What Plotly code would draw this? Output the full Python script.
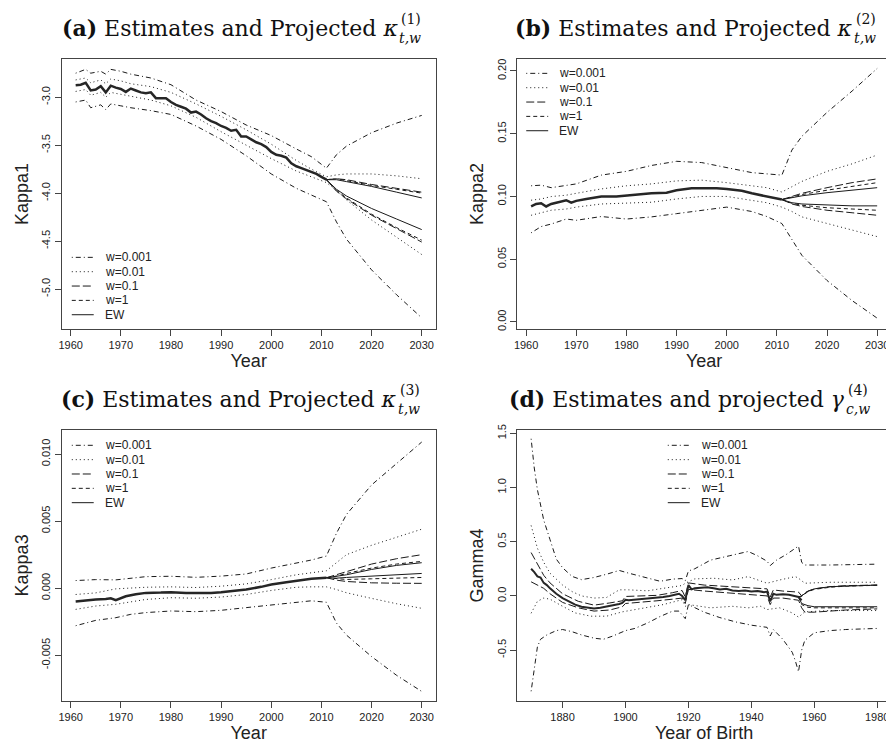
import plotly.graph_objects as go

# ---------------- data: panel (a) kappa1 ----------------
A_YEARS = [1961,1962,1963,1964,1965,1966,1967,1968,1969,1970,1971,1972,1973,1974,1975,1976,1977,1978,1979,1980,
           1981,1982,1983,1984,1985,1986,1987,1988,1989,1990,1991,1992,1993,1994,1995,1996,1997,1998,1999,2000,
           2001,2002,2003,2004,2005,2006,2007,2008,2009,2010,2011]
A_CENTRAL = [-2.875,-2.87,-2.85,-2.93,-2.92,-2.885,-2.95,-2.88,-2.90,-2.915,-2.945,-2.91,-2.93,-2.95,-2.96,-2.95,-3.01,-3.01,-3.01,-3.05,
             -3.08,-3.10,-3.12,-3.16,-3.15,-3.18,-3.22,-3.25,-3.27,-3.30,-3.32,-3.35,-3.34,-3.41,-3.41,-3.44,-3.47,-3.49,-3.52,-3.57,
             -3.60,-3.61,-3.63,-3.69,-3.72,-3.74,-3.76,-3.785,-3.80,-3.83,-3.86]
A_BAND_YEARS = [1961,1963,1964,1966,1967,1968,1970,1972,1976,1980,1985,1990,1995,2000,2005,2008,2011,2013,2015,2020,2025,2030]
A_W0001_UP = [-2.75,-2.71,-2.75,-2.73,-2.76,-2.71,-2.73,-2.76,-2.80,-2.87,-3.03,-3.15,-3.29,-3.40,-3.54,-3.62,-3.74,-3.60,-3.51,-3.37,-3.27,-3.19]
A_W0001_LO = [-3.05,-3.03,-3.11,-3.08,-3.13,-3.07,-3.09,-3.11,-3.14,-3.18,-3.30,-3.44,-3.61,-3.80,-3.95,-4.02,-4.09,-4.30,-4.48,-4.80,-5.06,-5.30]
A_W001_UP = [-2.82,-2.80,-2.85,-2.82,-2.86,-2.81,-2.83,-2.86,-2.89,-2.95,-3.07,-3.20,-3.34,-3.49,-3.66,-3.75,-3.83,-3.81,-3.80,-3.80,-3.82,-3.85]
A_W001_LO = [-2.94,-2.92,-2.98,-2.95,-3.00,-2.95,-2.97,-2.99,-3.03,-3.09,-3.21,-3.36,-3.50,-3.64,-3.77,-3.83,-3.89,-3.97,-4.07,-4.28,-4.46,-4.64]
A_PROJ_YEARS = [2011,2013,2015,2020,2025,2030]
A_W01_UP = [-3.86,-3.85,-3.86,-3.91,-3.95,-3.99]
A_W01_LO = [-3.86,-3.98,-4.06,-4.23,-4.37,-4.51]
A_W1_UP = [-3.86,-3.85,-3.87,-3.92,-3.96,-4.00]
A_W1_LO = [-3.86,-3.97,-4.05,-4.22,-4.36,-4.49]
A_EW_UP = [-3.86,-3.86,-3.88,-3.93,-3.99,-4.05]
A_EW_LO = [-3.86,-3.96,-4.03,-4.16,-4.27,-4.38]
A_YTICKS = [-5.0, -4.5, -4.0, -3.5, -3.0]
A_YTICKTEXT = ["-5.0", "-4.5", "-4.0", "-3.5", "-3.0"]

# ---------------- data: panel (b) kappa2 ----------------
B_YEARS = [1961,1962,1963,1964,1965,1966,1967,1968,1969,1970,1972,1975,1978,1980,1983,1985,1988,1990,1993,1995,1998,2000,2003,2005,2008,2011]
B_CENTRAL = [0.092,0.094,0.0946,0.092,0.094,0.095,0.096,0.097,0.095,0.0965,0.098,0.0999,0.100,0.1007,0.102,0.1025,0.103,0.105,0.1065,0.1067,0.1065,0.106,0.1045,0.1025,0.0999,0.0975]
B_BAND_YEARS = [1961,1963,1965,1968,1970,1975,1980,1985,1990,1995,2000,2005,2008,2011,2013,2015,2020,2025,2030]
B_W0001_UP = [0.1085,0.109,0.107,0.109,0.110,0.117,0.120,0.1247,0.128,0.127,0.123,0.119,0.118,0.117,0.137,0.148,0.167,0.184,0.202]
B_W0001_LO = [0.071,0.076,0.078,0.082,0.081,0.084,0.082,0.0837,0.0863,0.0892,0.0915,0.088,0.084,0.0784,0.066,0.053,0.033,0.017,0.003]
B_W001_UP = [0.097,0.098,0.0999,0.101,0.1025,0.106,0.1085,0.110,0.1124,0.113,0.111,0.1085,0.107,0.1035,0.108,0.112,0.120,0.126,0.133]
B_W001_LO = [0.085,0.087,0.089,0.090,0.0915,0.094,0.0946,0.0954,0.098,0.100,0.100,0.097,0.095,0.0915,0.088,0.0837,0.0784,0.0737,0.068]
B_PROJ_YEARS = [2011,2013,2015,2020,2025,2030]
B_W01_UP = [0.0975,0.100,0.1025,0.107,0.111,0.114]
B_W01_LO = [0.0975,0.094,0.092,0.089,0.087,0.085]
B_W1_UP = [0.0975,0.0995,0.1015,0.105,0.108,0.111]
B_W1_LO = [0.0975,0.0945,0.093,0.091,0.090,0.089]
B_EW_UP = [0.0975,0.099,0.1005,0.103,0.105,0.107]
B_EW_LO = [0.0975,0.095,0.094,0.093,0.0925,0.0925]
B_YTICKS = [0.0, 0.05, 0.10, 0.15, 0.20]
B_YTICKTEXT = ["0.00", "0.05", "0.10", "0.15", "0.20"]

# ---------------- data: panel (c) kappa3 ----------------
C_YEARS = [1961,1963,1965,1967,1968,1969,1971,1973,1975,1978,1980,1983,1985,1988,1990,1993,1995,1998,2000,2003,2005,2008,2011]
C_CENTRAL = [-0.0010,-0.0009,-0.00085,-0.0008,-0.00075,-0.0009,-0.0006,-0.00045,-0.00035,-0.00033,-0.0003,-0.00035,-0.00037,
             -0.00035,-0.0003,-0.0002,-0.0001,0.0001,0.00027,0.00045,0.00057,0.0007,0.00078]
C_BAND_YEARS = [1961,1965,1969,1972,1975,1980,1985,1990,1995,2000,2005,2008,2011,2013,2015,2020,2025,2030]
C_W0001_UP = [0.00057,0.00064,0.00062,0.00076,0.00086,0.00089,0.00081,0.00090,0.00106,0.0015,0.00187,0.0021,0.0024,0.0041,0.0055,0.0077,0.0093,0.0109]
C_W0001_LO = [-0.0028,-0.0024,-0.0022,-0.00195,-0.00182,-0.0017,-0.00175,-0.00165,-0.00145,-0.00126,-0.00108,-0.00094,-0.00105,-0.0026,-0.0035,-0.0051,-0.0065,-0.0077]
C_W001_UP = [-0.00047,-0.00035,-0.00005,0.00003,0.00007,0.0001,0.00005,0.00015,0.00032,0.00064,0.0010,0.00115,0.0013,0.0019,0.0025,0.0032,0.0038,0.0044]
C_W001_LO = [-0.00158,-0.00133,-0.0012,-0.0010,-0.00084,-0.00071,-0.00075,-0.00066,-0.00047,-0.00017,0.00007,0.0001,0.0001,-0.0001,-0.00034,-0.00076,-0.00116,-0.0015]
C_PROJ_YEARS = [2011,2013,2015,2020,2025,2030]
C_W01_UP = [0.00078,0.0010,0.0012,0.0018,0.0022,0.0025]
C_W01_LO = [0.00078,0.0006,0.0005,0.0004,0.00037,0.00036]
C_W1_UP = [0.00078,0.0009,0.0011,0.0015,0.0018,0.0020]
C_W1_LO = [0.00078,0.0007,0.00065,0.0007,0.00075,0.0008]
C_EW_UP = [0.00078,0.0009,0.0010,0.0014,0.0017,0.0019]
C_EW_LO = [0.00078,0.00075,0.0008,0.0009,0.0010,0.0011]
C_YTICKS = [-0.005, 0.0, 0.005, 0.010]
C_YTICKTEXT = ["-0.005", "0.000", "0.005", "0.010"]

# ---------------- data: panel (d) gamma4 ----------------
D_COHORTS = [1870,1871,1872,1873,1874,1875,1876,1878,1880,1882,1884,1886,1888,1890,1892,1894,1896,1898,1899,1900,
             1901,1903,1905,1908,1910,1912,1914,1916,1917,1918,1919,1920,1921,1922,1924,1926,1928,1930,1932,1934,
             1936,1938,1940,1942,1944,1945,1946,1947,1948,1950,1952,1954,1955,1956]
D_CENTRAL = [0.25,0.22,0.18,0.17,0.12,0.10,0.07,0.02,-0.02,-0.05,-0.08,-0.10,-0.11,-0.115,-0.11,-0.10,-0.09,-0.075,-0.065,-0.035,
             -0.04,-0.035,-0.03,-0.025,-0.02,-0.01,0.0,0.01,0.02,0.0,-0.04,0.10,0.06,0.07,0.075,0.08,0.07,0.06,0.065,0.05,
             0.045,0.05,0.04,0.045,0.035,0.04,-0.05,0.02,0.01,0.015,0.01,0.0,-0.01,-0.04]
D_W0001_UP_X = [1870,1871,1872,1873,1874,1876,1878,1880,1883,1886,1890,1894,1898,1901,1907,1911,1915,1918,1919,1920,
                1922,1927,1933,1939,1942,1945,1946,1948,1951,1954,1955,1956,1957,1965,1980]
D_W0001_UP = [1.45,1.18,0.98,0.85,0.70,0.52,0.34,0.26,0.18,0.15,0.17,0.20,0.235,0.21,0.165,0.135,0.155,0.16,0.14,0.23,
              0.25,0.33,0.37,0.41,0.37,0.32,0.28,0.33,0.38,0.44,0.46,0.31,0.285,0.285,0.293]
D_W0001_LO_X = [1870,1871,1872,1873,1875,1878,1880,1883,1886,1890,1893,1896,1900,1903,1907,1911,1915,1917,1919,1920,
                1922,1925,1930,1935,1940,1943,1945,1946,1947,1950,1953,1954,1955,1956,1957,1960,1965,1970,1980]
D_W0001_LO = [-0.88,-0.65,-0.47,-0.40,-0.36,-0.32,-0.31,-0.33,-0.36,-0.39,-0.40,-0.37,-0.32,-0.30,-0.25,-0.19,-0.14,-0.14,-0.21,-0.08,
              -0.11,-0.15,-0.20,-0.24,-0.27,-0.28,-0.29,-0.37,-0.31,-0.40,-0.52,-0.60,-0.70,-0.50,-0.41,-0.34,-0.32,-0.31,-0.30]
D_W001_UP_X = [1870,1872,1874,1876,1880,1883,1886,1890,1894,1898,1901,1907,1912,1918,1919,1922,1928,1934,1939,1942,
               1945,1949,1954,1955,1957,1965,1980]
D_W001_UP = [0.65,0.44,0.31,0.21,0.10,0.04,0.0,-0.02,-0.014,0.056,0.056,0.047,0.07,0.096,0.117,0.157,0.163,0.147,0.178,0.147,
             0.117,0.147,0.178,0.163,0.117,0.126,0.126]
D_W001_LO_X = [1870,1872,1874,1876,1879,1884,1889,1894,1899,1903,1907,1912,1916,1918,1919,1920,1927,1934,1939,1943,
               1945,1949,1953,1955,1957,1965,1980]
D_W001_LO = [-0.16,-0.05,-0.02,-0.03,-0.08,-0.157,-0.187,-0.187,-0.147,-0.126,-0.11,-0.08,-0.05,-0.035,-0.096,-0.08,-0.11,-0.096,-0.11,-0.096,
             -0.126,-0.11,-0.157,-0.196,-0.147,-0.135,-0.135]
D_W01_X = [1870,1872,1874,1876,1880,1885,1890,1895,1899,1900,1905,1910,1915,1918,1919,1920,1925,1930,1935,1940,
           1945,1946,1947,1950,1955,1956,1957,1960,1965,1970,1980]
D_W01_UP = [0.40,0.29,0.19,0.12,0.02,-0.05,-0.085,-0.065,-0.045,-0.005,0.0,0.005,0.03,0.05,-0.01,0.12,0.10,0.09,0.08,0.075,
            0.065,-0.01,0.055,0.045,0.035,0.0,0.03,0.065,0.085,0.095,0.10]
D_W01_LO = [0.13,0.10,0.07,0.02,-0.06,-0.11,-0.14,-0.13,-0.10,-0.07,-0.06,-0.045,-0.03,-0.02,-0.07,0.06,0.045,0.035,0.025,0.01,
            0.0,-0.08,-0.02,-0.02,-0.04,-0.11,-0.15,-0.15,-0.14,-0.13,-0.12]
D_PROJ_X = [1955,1956,1958,1960,1965,1970,1980]
D_W1_UP = [-0.01,-0.005,0.04,0.06,0.08,0.09,0.098]
D_W1_LO = [-0.01,-0.08,-0.105,-0.11,-0.11,-0.11,-0.11]
D_EW_UP = [-0.01,0.0,0.045,0.065,0.085,0.092,0.10]
D_EW_LO = [-0.01,-0.07,-0.09,-0.10,-0.10,-0.10,-0.10]
D_YTICKS = [-0.5, 0.0, 0.5, 1.0, 1.5]
D_YTICKTEXT = ["-0.5", "0.0", "0.5", "1.0", "1.5"]

YEAR_TICKS = [1960, 1970, 1980, 1990, 2000, 2010, 2020, 2030]
COHORT_TICKS = [1880, 1900, 1920, 1940, 1960, 1980]
LEGEND_LABELS = ["w=0.001", "w=0.01", "w=0.1", "w=1", "EW"]

# ---------------- styling ----------------
# The page body keeps its default 8px margin, so the figure starts 8px in;
# it is sized to end at the window edge and reference pixels are shifted by 8.
PAGE_W, PAGE_H, BODY = 894, 751, 8
W, H = PAGE_W - BODY, PAGE_H - BODY
DASHES = {"w=0.001": "1px,3px,5px,3px", "w=0.01": "1px,3px", "w=0.1": "8px,3px", "w=1": "4px,3px", "EW": "solid"}
LINE_COL = "#1a1a1a"
TICK_FONT = dict(family="Liberation Sans, Arial, sans-serif", size=11, color="#222")
TITLE_FONT = dict(family="Liberation Sans, Arial, sans-serif", size=18, color="#222")

fig = go.Figure()

def add_line(x, y, label, ax, width=1.0):
    fig.add_trace(go.Scatter(x=x, y=y, mode="lines", xaxis="x" + ax, yaxis="y" + ax,
                             line=dict(color=LINE_COL, width=width, dash=DASHES[label]),
                             showlegend=False, hoverinfo="skip"))

def add_central(x, y, ax, width):
    fig.add_trace(go.Scatter(x=x, y=y, mode="lines", xaxis="x" + ax, yaxis="y" + ax,
                             line=dict(color="#262626", width=width), showlegend=False, hoverinfo="skip"))

# panel a
add_line(A_BAND_YEARS, A_W0001_UP, "w=0.001", "")
add_line(A_BAND_YEARS, A_W0001_LO, "w=0.001", "")
add_line(A_BAND_YEARS, A_W001_UP, "w=0.01", "")
add_line(A_BAND_YEARS, A_W001_LO, "w=0.01", "")
add_line(A_PROJ_YEARS, A_W01_UP, "w=0.1", "")
add_line(A_PROJ_YEARS, A_W01_LO, "w=0.1", "")
add_line(A_PROJ_YEARS, A_W1_UP, "w=1", "")
add_line(A_PROJ_YEARS, A_W1_LO, "w=1", "")
add_line(A_PROJ_YEARS, A_EW_UP, "EW", "")
add_line(A_PROJ_YEARS, A_EW_LO, "EW", "")
add_central(A_YEARS, A_CENTRAL, "", 2.5)
# panel b
add_line(B_BAND_YEARS, B_W0001_UP, "w=0.001", "2")
add_line(B_BAND_YEARS, B_W0001_LO, "w=0.001", "2")
add_line(B_BAND_YEARS, B_W001_UP, "w=0.01", "2")
add_line(B_BAND_YEARS, B_W001_LO, "w=0.01", "2")
add_line(B_PROJ_YEARS, B_W01_UP, "w=0.1", "2")
add_line(B_PROJ_YEARS, B_W01_LO, "w=0.1", "2")
add_line(B_PROJ_YEARS, B_W1_UP, "w=1", "2")
add_line(B_PROJ_YEARS, B_W1_LO, "w=1", "2")
add_line(B_PROJ_YEARS, B_EW_UP, "EW", "2")
add_line(B_PROJ_YEARS, B_EW_LO, "EW", "2")
add_central(B_YEARS, B_CENTRAL, "2", 2.5)
# panel c
add_line(C_BAND_YEARS, C_W0001_UP, "w=0.001", "3")
add_line(C_BAND_YEARS, C_W0001_LO, "w=0.001", "3")
add_line(C_BAND_YEARS, C_W001_UP, "w=0.01", "3")
add_line(C_BAND_YEARS, C_W001_LO, "w=0.01", "3")
add_line(C_PROJ_YEARS, C_W01_UP, "w=0.1", "3")
add_line(C_PROJ_YEARS, C_W01_LO, "w=0.1", "3")
add_line(C_PROJ_YEARS, C_W1_UP, "w=1", "3")
add_line(C_PROJ_YEARS, C_W1_LO, "w=1", "3")
add_line(C_PROJ_YEARS, C_EW_UP, "EW", "3")
add_line(C_PROJ_YEARS, C_EW_LO, "EW", "3")
add_central(C_YEARS, C_CENTRAL, "3", 2.5)
# panel d
add_line(D_W0001_UP_X, D_W0001_UP, "w=0.001", "4")
add_line(D_W0001_LO_X, D_W0001_LO, "w=0.001", "4")
add_line(D_W001_UP_X, D_W001_UP, "w=0.01", "4")
add_line(D_W001_LO_X, D_W001_LO, "w=0.01", "4")
add_line(D_W01_X, D_W01_UP, "w=0.1", "4")
add_line(D_W01_X, D_W01_LO, "w=0.1", "4")
add_line(D_PROJ_X, D_W1_UP, "w=1", "4")
add_line(D_PROJ_X, D_W1_LO, "w=1", "4")
add_line(D_PROJ_X, D_EW_UP, "EW", "4")
add_line(D_PROJ_X, D_EW_LO, "EW", "4")
add_central(D_COHORTS, D_CENTRAL, "4", 2.0)

# ---------------- layout: panel boxes in page pixels ----------------
def px_x(p):
    return (p - BODY) / W

def px_y(p):
    return 1 - (p - BODY) / H

BOX_L = (59, 434)
BOX_R = (516, 891)
BOX_T = (53.3, 326.5)
BOX_B = (428.5, 702.3)

def xaxis(dom, rng, ticks, anchor, title):
    return dict(domain=[px_x(dom[0]), px_x(dom[1])], range=rng, tickvals=ticks, anchor=anchor,
                showline=True, mirror=True, linecolor="#444", linewidth=1, ticks="outside", ticklen=6,
                tickcolor="#444", showgrid=False, zeroline=False, tickfont=TICK_FONT,
                title=dict(text=title, font=TITLE_FONT, standoff=4))

def yaxis(dom, rng, ticks, labels, anchor, title):
    return dict(domain=[px_y(dom[1]), px_y(dom[0])], range=rng, tickvals=ticks, ticktext=labels, anchor=anchor,
                showline=True, mirror=True, linecolor="#444", linewidth=1, ticks="outside", ticklen=6,
                tickcolor="#444", showgrid=False, zeroline=False, tickfont=TICK_FONT, tickangle=-90,
                title=dict(text=title, font=TITLE_FONT, standoff=7))

fig.update_layout(
    width=W, height=H, margin=dict(l=0, r=0, t=0, b=0),
    paper_bgcolor="white", plot_bgcolor="white", showlegend=False,
    xaxis=xaxis(BOX_L, [1958.24, 2032.76], YEAR_TICKS, "y", "Year"),
    yaxis=yaxis(BOX_T, [-5.417, -2.600], A_YTICKS, A_YTICKTEXT, "x", "Kappa1"),
    xaxis2=xaxis(BOX_R, [1958.24, 2032.76], YEAR_TICKS, "y2", "Year"),
    yaxis2=yaxis(BOX_T, [-0.0057, 0.2097], B_YTICKS, B_YTICKTEXT, "x2", "Kappa2"),
    xaxis3=xaxis(BOX_L, [1958.24, 2032.76], YEAR_TICKS, "y3", "Year"),
    yaxis3=yaxis(BOX_B, [-0.0084, 0.0118], C_YTICKS, C_YTICKTEXT, "x3", "Kappa3"),
    xaxis4=xaxis(BOX_R, [1865.6, 1984.4], COHORT_TICKS, "y4", "Year of Birth"),
    yaxis4=yaxis(BOX_B, [-0.968, 1.531], D_YTICKS, D_YTICKTEXT, "x4", "Gamma4"),
)

# ---------------- titles (main text + stacked sub/superscript) ----------------
SERIF = "DejaVu Serif, Liberation Serif, serif"
annotations = []

def panel_title(main, sub, sup, x_end, y_mid):
    annotations.append(dict(text=main, x=px_x(x_end), y=px_y(y_mid), xref="paper", yref="paper",
                            xanchor="right", yanchor="middle", showarrow=False,
                            font=dict(family=SERIF, size=22, color="#111")))
    annotations.append(dict(text="<i>" + sub + "</i>", x=px_x(x_end - 3), y=px_y(y_mid + 10), xref="paper", yref="paper",
                            xanchor="left", yanchor="middle", showarrow=False,
                            font=dict(family=SERIF, size=14, color="#111")))
    annotations.append(dict(text=sup, x=px_x(x_end - 1), y=px_y(y_mid - 9), xref="paper", yref="paper",
                            xanchor="left", yanchor="middle", showarrow=False,
                            font=dict(family=SERIF, size=14, color="#111")))

panel_title("<b>(a)</b> Estimates and Projected <i>κ</i>", "t,w", "(1)", 398, 22)
panel_title("<b>(b)</b> Estimates and Projected <i>κ</i>", "t,w", "(2)", 855, 22)
panel_title("<b>(c)</b> Estimates and Projected <i>κ</i>", "t,w", "(3)", 397, 397)
panel_title("<b>(d)</b> Estimates and projected <i>γ</i>", "c,w", "(4)", 847, 397)

# ---------------- legends (R style, no box) ----------------
LEG_FONT = dict(family="Liberation Sans, Arial, sans-serif", size=12, color="#222")
shapes = []

def legend_block(x0, y0):
    for i, lab in enumerate(LEGEND_LABELS):
        yy = y0 + i * 14.5
        shapes.append(dict(type="line", xref="paper", yref="paper", x0=px_x(x0), x1=px_x(x0 + 22),
                           y0=px_y(yy), y1=px_y(yy),
                           line=dict(color=LINE_COL, width=1, dash=DASHES[lab])))
        annotations.append(dict(text=lab, x=px_x(x0 + 31), y=px_y(yy), xref="paper", yref="paper",
                                xanchor="left", yanchor="middle", showarrow=False, font=LEG_FONT))

legend_block(69, 254)
legend_block(525, 68)
legend_block(69, 444)
legend_block(667, 444)

fig.update_layout(annotations=annotations, shapes=shapes)
fig.write_html("out.html")
